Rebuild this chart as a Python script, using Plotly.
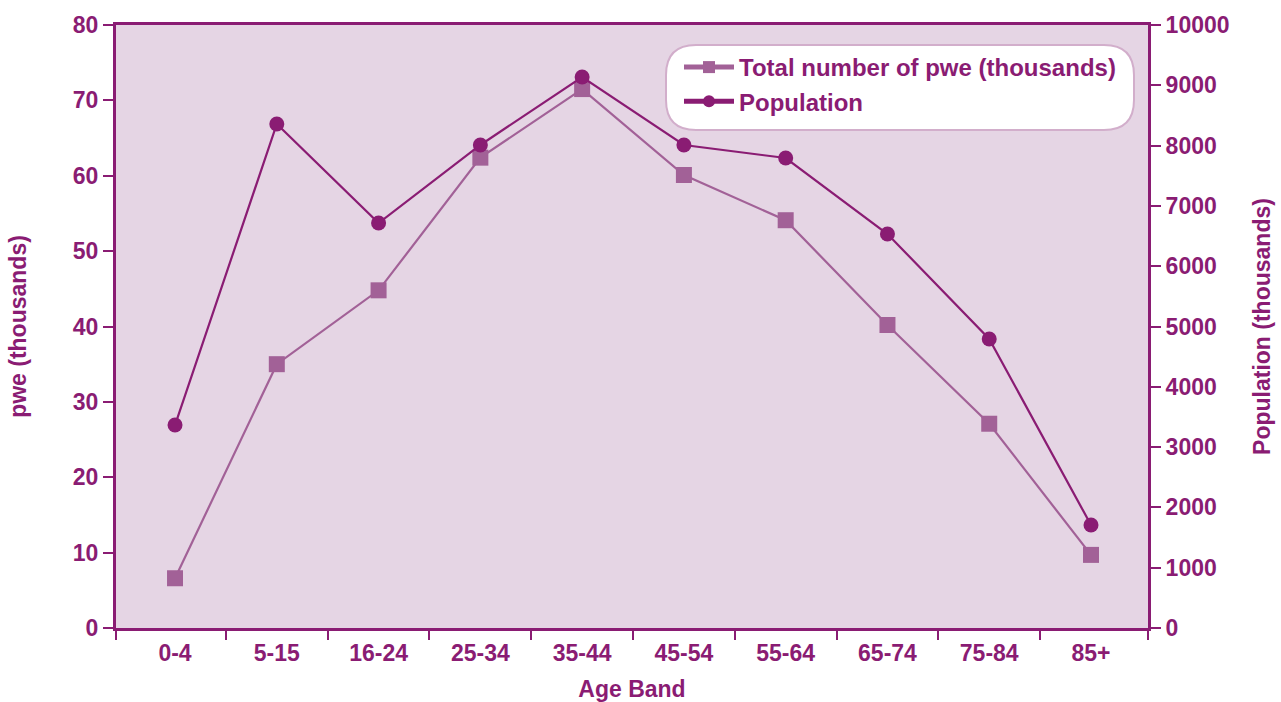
import plotly.graph_objects as go

# Age bands and the two series
age_bands = ["0-4", "5-15", "16-24", "25-34", "35-44", "45-54", "55-64", "65-74", "75-84", "85+"]
pwe_thousands = [6.6, 35.0, 44.8, 62.4, 71.5, 60.1, 54.1, 40.2, 27.1, 9.7]
population_thousands = [3366, 8358, 6716, 8010, 9138, 8010, 7794, 6534, 4793, 1708]

left_ticks = [0, 10, 20, 30, 40, 50, 60, 70, 80]
right_ticks = [0, 1000, 2000, 3000, 4000, 5000, 6000, 7000, 8000, 9000, 10000]

DARK = "#8A1C73"
LIGHT = "#A26197"
BG = "#E5D5E4"
FONT = "Liberation Sans"
FS = 23

W, H = 1281, 702
ML, MR, MT, MB = 116, 133, 25, 74
PW, PH = W - ML - MR, H - MT - MB

xpos = list(range(len(age_bands)))
x_range = [-0.58, 9.56]
boundaries = [x_range[0]] + [i + 0.5 for i in range(len(age_bands) - 1)] + [x_range[1]]

fig = go.Figure()

fig.add_trace(go.Scatter(
    x=xpos, y=pwe_thousands, name="<b>Total number of pwe (thousands)</b>",
    mode="lines+markers", yaxis="y",
    line=dict(color=LIGHT, width=2.2),
    marker=dict(symbol="square", size=16, color=LIGHT),
))
fig.add_trace(go.Scatter(
    x=xpos, y=population_thousands, name="<b>Population</b>",
    mode="lines+markers", yaxis="y2",
    line=dict(color=DARK, width=2.2),
    marker=dict(symbol="circle", size=15, color=DARK),
))
# empty trace that carries the category label axis
fig.add_trace(go.Scatter(x=xpos, y=[None] * len(xpos), xaxis="x2", showlegend=False, hoverinfo="skip"))


def px_to_paper(px, py):
    return (px - ML) / PW, (H - MB - py) / PH


def rounded_rect(x0, y0, x1, y1, r):
    # pixel rectangle with rounded corners, expressed in paper units
    def p(x, y):
        a, b = px_to_paper(x, y)
        return f"{a:.5f},{b:.5f}"
    return (f"M {p(x0 + r, y0)} L {p(x1 - r, y0)} Q {p(x1, y0)} {p(x1, y0 + r)} "
            f"L {p(x1, y1 - r)} Q {p(x1, y1)} {p(x1 - r, y1)} "
            f"L {p(x0 + r, y1)} Q {p(x0, y1)} {p(x0, y1 - r)} "
            f"L {p(x0, y0 + r)} Q {p(x0, y0)} {p(x0 + r, y0)} Z")


lx, ly = px_to_paper(679, 45)

fig.update_layout(
    width=W, height=H,
    margin=dict(l=ML, r=MR, t=MT, b=MB, autoexpand=False),
    paper_bgcolor="white",
    plot_bgcolor=BG,
    font=dict(family=FONT, color=DARK, size=FS),
    xaxis=dict(
        range=x_range, tickmode="array", tickvals=boundaries, ticktext=[""] * len(boundaries),
        ticks="outside", ticklen=9, tickwidth=2, tickcolor=DARK,
        showline=True, linecolor=DARK, linewidth=3, showgrid=False, zeroline=False,
        mirror=True, automargin=False,
    ),
    xaxis2=dict(
        overlaying="x", side="bottom", range=x_range, tickmode="array",
        tickvals=xpos, ticktext=[f"<b>{a}</b>" for a in age_bands],
        ticks="", showline=False, showgrid=False, zeroline=False,
        ticklabelstandoff=9, automargin=False,
        tickfont=dict(size=FS, family=FONT, color=DARK),
        title=dict(text="<b>Age Band</b>", font=dict(size=FS, color=DARK), standoff=17),
    ),
    yaxis=dict(
        range=[0, 80], tickmode="array", tickvals=left_ticks,
        ticktext=[f"<b>{v}</b>" for v in left_ticks],
        ticks="outside", ticklen=10, tickwidth=2, tickcolor=DARK,
        showline=True, linecolor=DARK, linewidth=3, showgrid=False, zeroline=False,
        automargin=False,
        title=dict(text="<b>pwe (thousands)</b>", font=dict(size=FS, color=DARK), standoff=40),
    ),
    yaxis2=dict(
        range=[0, 10000], overlaying="y", side="right", tickmode="array", tickvals=right_ticks,
        ticktext=[f"<b>{v}</b>" for v in right_ticks],
        ticks="outside", ticklen=10, tickwidth=2, tickcolor=DARK,
        showline=True, linecolor=DARK, linewidth=3, showgrid=False, zeroline=False,
        automargin=False,
        title=dict(text="<b>Population (thousands)</b>", font=dict(size=FS, color=DARK), standoff=26),
    ),
    legend=dict(
        x=lx, y=ly, xanchor="left", yanchor="top",
        bgcolor="rgba(0,0,0,0)", borderwidth=0,
        font=dict(size=24, color=DARK, family=FONT),
        tracegroupgap=0, itemsizing="constant", itemwidth=50,
    ),
    shapes=[dict(
        type="path", xref="paper", yref="paper", layer="below",
        path=rounded_rect(666, 45, 1134, 130, 30),
        fillcolor="white", line=dict(color="#D2AECB", width=2),
    )],
    showlegend=True,
)

fig.write_html("out.html")
